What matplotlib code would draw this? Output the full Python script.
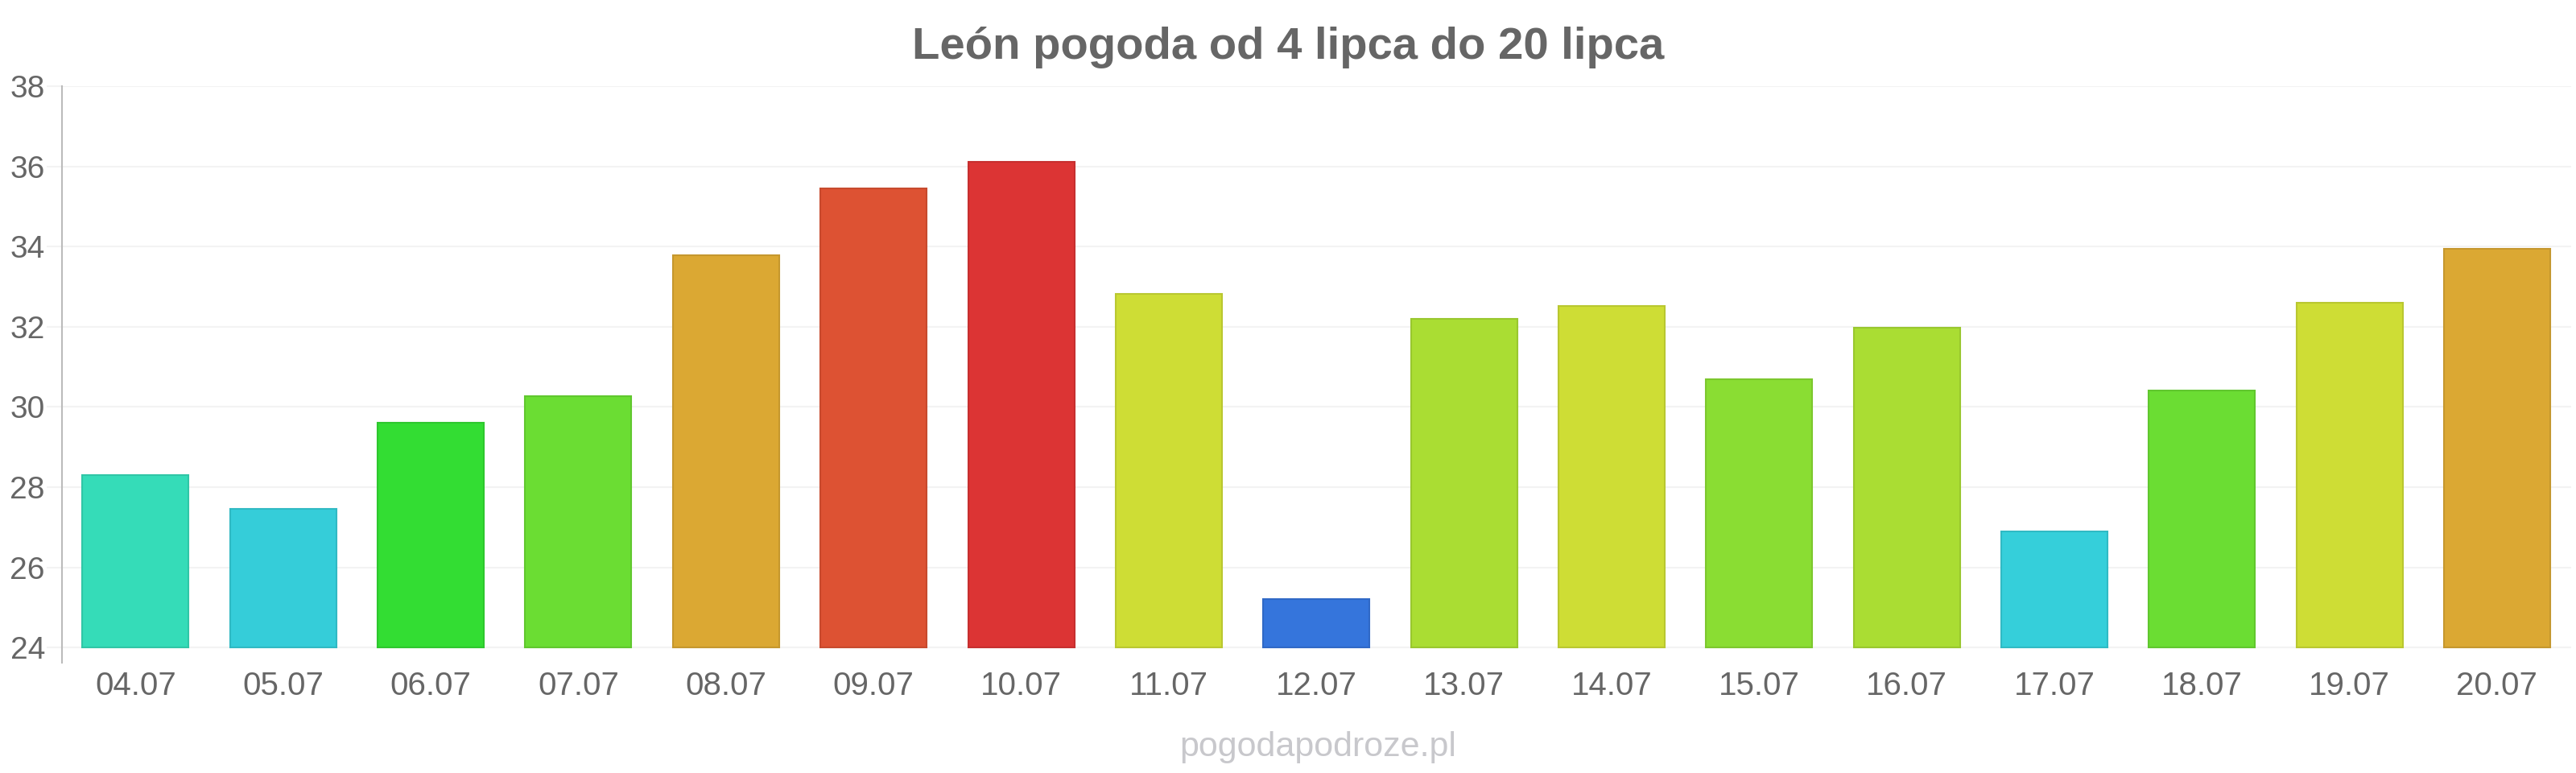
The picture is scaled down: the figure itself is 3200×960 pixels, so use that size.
import matplotlib
matplotlib.use("Agg")
import matplotlib.pyplot as plt
from matplotlib.colors import to_rgb

plt.rcParams['font.family'] = ['Liberation Sans', 'DejaVu Sans']

# daily max temperature, León, 4-20 July
days = ['04.07', '05.07', '06.07', '07.07', '08.07', '09.07', '10.07', '11.07', '12.07',
        '13.07', '14.07', '15.07', '16.07', '17.07', '18.07', '19.07', '20.07']
temps = [28.3, 27.45, 29.6, 30.27, 33.79, 35.45, 36.11, 32.81, 25.2,
         32.19, 32.52, 30.68, 31.97, 26.89, 30.41, 32.59, 33.95]
colors = ['#35dcb8', '#35cdd9', '#33dd33', '#6bdd33', '#dba833', '#dd5233', '#dc3434', '#cedd35', '#3575dc',
          '#aadd33', '#cedd35', '#8add33', '#aadd33', '#35cfda', '#6bdd33', '#cedd35', '#dba833']
yticks = [24, 26, 28, 30, 32, 34, 36, 38]

fig = plt.figure(figsize=(32, 9.6), dpi=100)
ax = fig.add_axes([0.024, 0.1427, 0.974, 0.7458])

edges = [tuple(c * 0.9 for c in to_rgb(col)) for col in colors]
x = range(len(days))
ax.bar(x, [t - 24 for t in temps], bottom=24, width=0.72, color=colors,
       edgecolor=edges, linewidth=1.5, zorder=3)

ax.set_xlim(-0.5, len(days) - 0.5)
ax.set_ylim(23.62, 38)
ax.set_yticks(yticks)
ax.set_xticks(list(x))
ax.set_xticklabels(days)
ax.grid(axis='y', color='#f3f3f3', linewidth=1.5, zorder=0)
ax.grid(axis='x', visible=False)

for s in ['top', 'right', 'bottom']:
    ax.spines[s].set_visible(False)
ax.spines['left'].set_color('#bbbbbb')
ax.spines['left'].set_linewidth(1.5)

ax.tick_params(axis='x', length=0, pad=7, labelsize=29, labelcolor='#666666')
ax.tick_params(axis='y', length=14, width=1.5, color='#f3f3f3', pad=1,
               labelsize=28, labelcolor='#666666')

fig.text(0.5, 0.924, 'León pogoda od 4 lipca do 20 lipca', ha='center', va='baseline',
         fontsize=40.5, fontweight='bold', color='#666666')
fig.text(0.5115, 0.022, 'pogodapodroze.pl', ha='center', va='baseline',
         fontsize=31, color='#c8c8cc')

fig.savefig('out.png', dpi=100, facecolor='white')
